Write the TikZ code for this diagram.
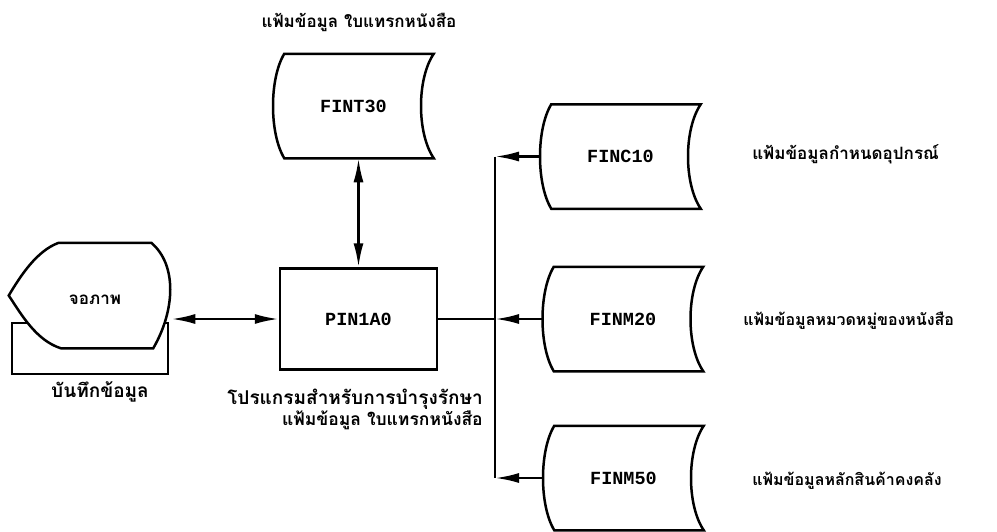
\documentclass[tikz,border=0pt]{standalone}
\usepackage{fontspec}
\usepackage{tikz}
\usetikzlibrary{arrows.meta}
\usetikzlibrary{calc}
\newfontfamily\thaifont[Script=Thai]{Loma}
\newfontfamily\codefont{Liberation Mono}

\begin{document}
\begin{tikzpicture}[x=1pt,y=-1pt,line width=2.5pt,
    >={Latex[length=24pt,width=10pt]},
    filenode/.style={minimum width=158pt,minimum height=102pt,inner sep=0pt,
      font=\codefont\bfseries\fontsize{18.5}{20}\selectfont},
    progbox/.style={draw,minimum width=157pt,minimum height=101pt,inner sep=0pt,
      font=\codefont\bfseries\fontsize{18.5}{20}\selectfont},
    thlabel/.style={inner sep=0pt,font=\thaifont\bfseries\fontsize{17}{21}\selectfont},
    biglabel/.style={thlabel,font=\thaifont\bfseries\fontsize{19}{21}\selectfont},
    smalllabel/.style={thlabel,font=\thaifont\bfseries\fontsize{16}{21}\selectfont}]
  \useasboundingbox (0,0) rectangle (997,531);

  % display with its record box behind
  \node[draw,minimum width=156pt,minimum height=51pt,inner sep=0pt] (rec) at (90,348.5) {};
  \node[minimum width=160pt,minimum height=103pt,inner sep=0pt] (scr) at (90,295.5) {};
  \draw[fill=white] ($(scr.north west)+(50,0)$) -- ($(scr.north east)+(-20,0)$)
    .. controls +(26,22) and +(22,-38) .. ($(scr.south east)+(-18,0)$)
    -- ($(scr.south west)+(52,0)$)
    .. controls +(-25,-8) and +(12,18) .. (scr.west)
    .. controls +(12,-20) and +(-22,8) .. cycle;
  \node[thlabel] (lscr) at (95,300) {จอภาพ};
  \node[biglabel] (lrec) at (100,392) {บันทึกข้อมูล};

  % program
  \node[progbox] (pin) at (358.5,319) {PIN1A0};
  \node[biglabel,anchor=north east,align=right] (lpin) at (484,388)
    {โปรแกรมสำหรับการบำรุงรักษา\\\fontsize{17.5}{21}\selectfont แฟ้มข้อมูล ใบแทรกหนังสือ};

  % files
  \node[filenode] (fint) at (353.5,106) {FINT30};
  \node[filenode] (finc) at (620.5,156.5) {FINC10};
  \node[filenode] (finm2) at (623,319) {FINM20};
  \node[filenode] (finm5) at (623.5,478) {FINM50};
  \foreach \f in {fint,finc,finm2,finm5}
    \draw ($(\f.north west)+(11,0)$) -- (\f.north east)
      .. controls +(-17,25) and +(-17,-25) .. (\f.south east)
      -- ($(\f.south west)+(11,0)$)
      .. controls +(-15,-25) and +(-15,25) .. cycle;

  \node[thlabel] (lfint) at (359,22) {แฟ้มข้อมูล ใบแทรกหนังสือ};
  \node[thlabel,anchor=west] (lfinc) at (751,154) {แฟ้มข้อมูลกำหนดอุปกรณ์};
  \node[smalllabel,anchor=west] (lfinm2) at (742,321) {แฟ้มข้อมูลหมวดหมู่ของหนังสือ};
  \node[smalllabel,anchor=west] (lfinm5) at (751,481) {แฟ้มข้อมูลหลักสินค้าคงคลัง};

  % connectors
  \draw[<->] (pin.west -| scr.east) -- (pin.west);
  \draw[<->] (pin.north |- fint.south) -- (pin.north);
  \coordinate (bus) at (495,319);
  \draw (pin.east) -- (bus);
  \draw (bus |- finc.west) -- (bus |- finm5.west);
  \draw[->] (finc.west) -- (finc.west -| bus);
  \draw[->] (finm2.west) -- (bus);
  \draw[->] (finm5.west) -- (finm5.west -| bus);
\end{tikzpicture}
\end{document}
